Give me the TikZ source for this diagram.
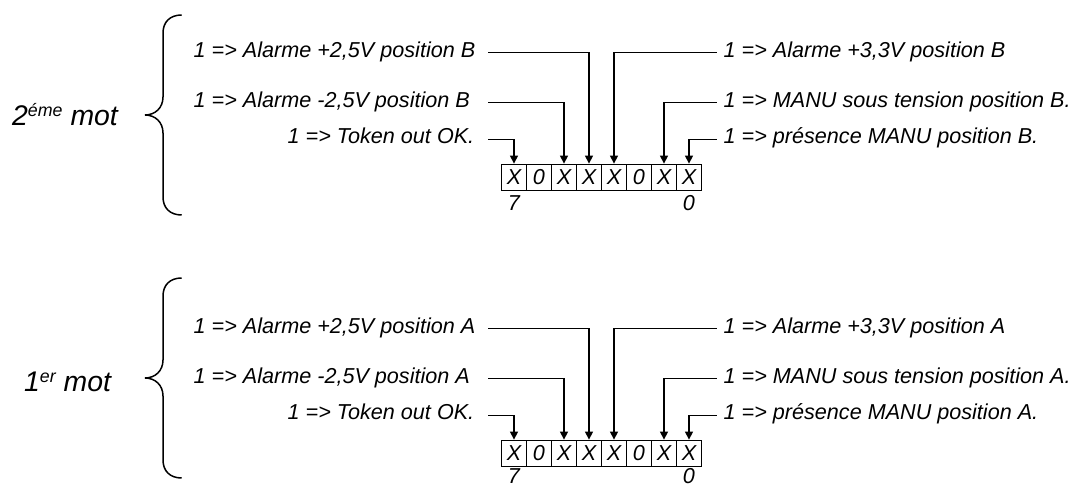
\documentclass[tikz,border=0pt]{standalone}
\usepackage{fontspec}
\setmainfont{Liberation Sans}
\usetikzlibrary{arrows.meta}
\tikzset{
  lbl/.style={font=\fontsize{21.6}{26}\selectfont\itshape, inner sep=0pt, anchor=base west},
  cell/.style={draw, line width=1.4pt, minimum width=25pt, minimum height=26.4pt, inner sep=0pt,
    font=\fontsize{21.6}{26}\selectfont\itshape},
  wire/.style={line width=1.3pt, -{Triangle[length=8pt,width=8pt]}},
  bracestyle/.style={line width=1.5pt},
  idx/.style={font=\fontsize{21.6}{26}\selectfont\itshape, inner sep=0pt},
  title/.style={inner sep=0pt, anchor=base west, font=\itshape}
}
\newcommand\motrow[4]{% #1 y offset, #2 letter, #3 suffix, #4 index y
\begin{scope}[shift={(0,#1)}]
  \foreach \i/\v in {7/X,6/0,5/X,4/X,3/X,2/0,1/X,0/X}
    \node[cell] (c#3-\i) at ({514+25*(7-\i)},177.5) {\v};
  \node[idx] (n7#3) at (514,#4) {7};
  \node[idx] (n0#3) at (689,#4) {0};
  \node[lbl] (L1#3) at (193.5,57.3) {1 => Alarme +2,5V position #2};
  \node[lbl] (L2#3) at (193.5,107.3) {1 => Alarme -2,5V position #2};
  \node[lbl] (L3#3) at (287.5,144) {1 => Token out OK.};
  \node[lbl] (R1#3) at (723.5,57.3) {1 => Alarme +3,3V position #2};
  \node[lbl] (R2#3) at (723.5,107.3) {1 => MANU sous tension position #2.};
  \node[lbl] (R3#3) at (723.5,144) {1 => présence MANU position #2.};
  \coordinate (l1#3) at (488,52.3);
  \coordinate (l2#3) at (488,102.3);
  \coordinate (l3#3) at (488,139.5);
  \coordinate (r1#3) at (716.7,52.3);
  \coordinate (r2#3) at (716.7,102.3);
  \coordinate (r3#3) at (716.7,139.5);
  \draw[wire] (l1#3) -| (c#3-4.north);
  \draw[wire] (l2#3) -| (c#3-5.north);
  \draw[wire] (l3#3) -| (c#3-7.north);
  \draw[wire] (r1#3) -| (c#3-3.north);
  \draw[wire] (r2#3) -| (c#3-1.north);
  \draw[wire] (r3#3) -| (c#3-0.north);
\end{scope}}
\newcommand\motbrace[1]{% #1 tip y
  \draw[bracestyle] (181.7,{#1-100}) .. controls (170,{#1-100}) and (163,{#1-93}) .. (163,{#1-82})
    -- (163,{#1-18}) .. controls (163,{#1-7}) and (155,#1) .. (145,#1)
    .. controls (155,#1) and (163,{#1+7}) .. (163,{#1+18})
    -- (163,{#1+82}) .. controls (163,{#1+93}) and (170,{#1+100}) .. (181.7,{#1+100});}
\begin{document}
\begin{tikzpicture}[x=1pt,y=-1pt]
  \useasboundingbox (0,0) rectangle (1080,486);
  \motrow{0}{B}{b}{203}
  \motrow{276}{A}{a}{200}
  \motbrace{115}
  \motbrace{378}
  \node[title] (t2) at (12,126) {\fontsize{28.4}{34}\selectfont 2\raisebox{9.3pt}{\fontsize{17.8}{20}\selectfont éme} mot};
  \node[title] (t1) at (24,391.7) {\fontsize{28.4}{34}\selectfont 1\raisebox{9.3pt}{\fontsize{17.8}{20}\selectfont er} mot};
\end{tikzpicture}
\end{document}
